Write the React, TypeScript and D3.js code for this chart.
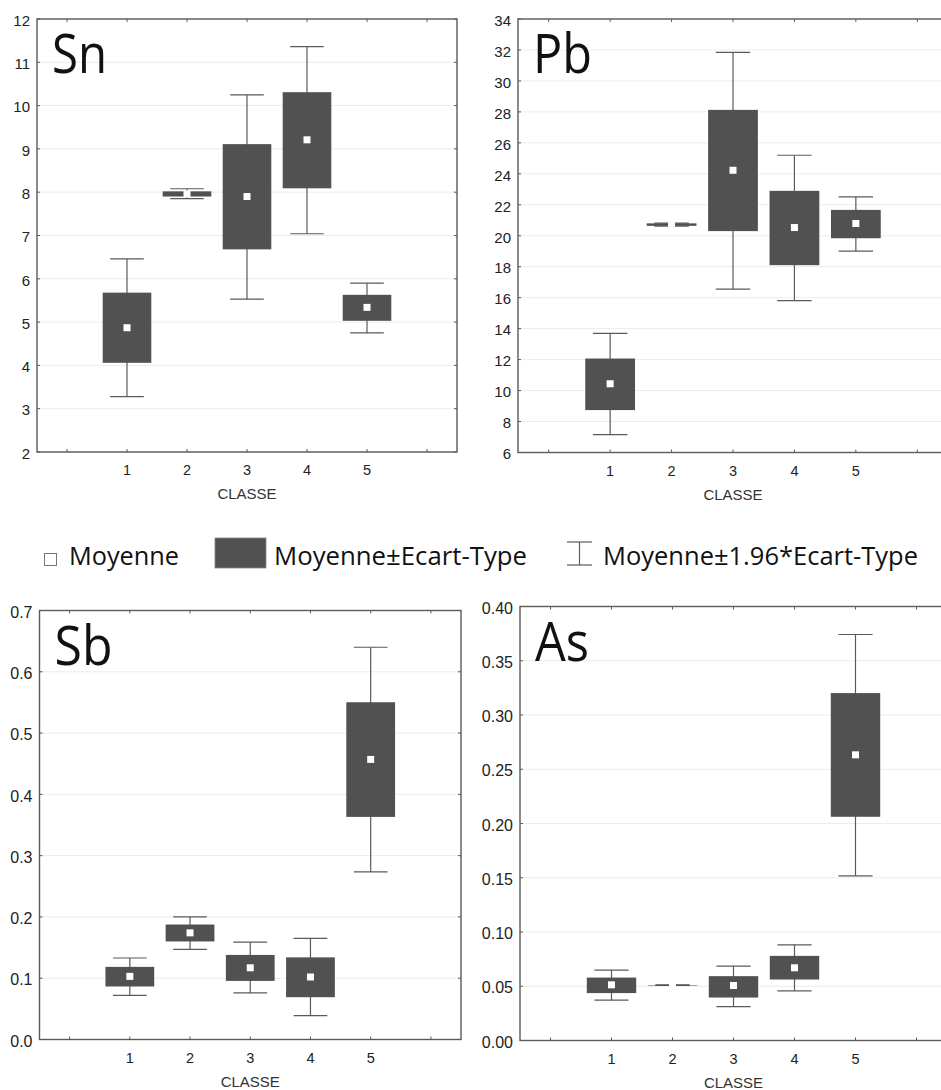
import React from "react";
import * as d3 from "d3";

// x categories (CLASSE)
const classes = [1, 2, 3, 4, 5];

// Sn
const snMean = [4.87, 7.96, 7.9, 9.21, 5.34];
const snSdLo = [4.06, 7.9, 6.68, 8.09, 5.03];
const snSdHi = [5.68, 8.02, 9.11, 10.31, 5.63];
const snCiLo = [3.28, 7.85, 5.53, 7.04, 4.75];
const snCiHi = [6.46, 8.08, 10.25, 11.36, 5.9];

// Pb
const pbMean = [10.44, 20.72, 24.23, 20.53, 20.79];
const pbSdLo = [8.74, 20.64, 20.3, 18.1, 19.84];
const pbSdHi = [12.07, 20.8, 28.13, 22.9, 21.67];
const pbCiLo = [7.16, 20.62, 16.55, 15.81, 19.01];
const pbCiHi = [13.69, 20.82, 31.85, 25.2, 22.51];

// Sb
const sbMean = [0.103, 0.174, 0.117, 0.102, 0.457];
const sbSdLo = [0.0865, 0.16, 0.0956, 0.069, 0.3632];
const sbSdHi = [0.1185, 0.1876, 0.138, 0.134, 0.5503];
const sbCiLo = [0.072, 0.147, 0.076, 0.039, 0.2735];
const sbCiHi = [0.133, 0.2, 0.159, 0.165, 0.64];

// As
const asMean = [0.0513, 0.051, 0.0507, 0.067, 0.2633];
const asSdLo = [0.0437, 0.0509, 0.0396, 0.0562, 0.2062];
const asSdHi = [0.058, 0.0511, 0.0593, 0.078, 0.3202];
const asCiLo = [0.0372, 0.0508, 0.0313, 0.0458, 0.1518];
const asCiHi = [0.0649, 0.0512, 0.0686, 0.0882, 0.3742];

const legendLabels = ["Moyenne", "Moyenne±Ecart-Type", "Moyenne±1.96*Ecart-Type"];

const BOX = "#515151";
const LINE = "#5a5a5a";
const GRID = "#ececec";
const AXIS_FONT = "'Liberation Sans', Arial, sans-serif";
const TITLE_FONT = "'Open Sans', 'Noto Sans', sans-serif";

type PanelProps = {
  name: string;
  mean: number[];
  sdLo: number[];
  sdHi: number[];
  ciLo: number[];
  ciHi: number[];
  domain: [number, number];
  tickCount: number;
  fmt: string;
  left: number;
  right: number;
  top: number;
  bottom: number;
  nameWidth: number;
  yFont: number;
};

function Panel(p: PanelProps) {
  const x = d3.scaleLinear().domain([-0.5, 6.5]).range([p.left, p.right]);
  const y = d3.scaleLinear().domain(p.domain).range([p.bottom, p.top]);
  const band = x(1) - x(0);
  const boxW = band * 0.81;
  const capW = band * 0.56;
  const yTicks = y.ticks(p.tickCount);
  const xTicks = d3.range(0, 7);
  const f = d3.format(p.fmt);
  const tk = 3;

  return (
    <g>
      {/* grid */}
      {yTicks.map((t) => (
        <line key={"g" + t} x1={p.left} x2={p.right} y1={y(t)} y2={y(t)} stroke={GRID} strokeWidth={1} />
      ))}
      {/* boxes */}
      {classes.map((c, i) => {
        const cx = x(c);
        return (
          <g key={"b" + c}>
            <line x1={cx} x2={cx} y1={y(p.ciHi[i])} y2={y(p.ciLo[i])} stroke={LINE} strokeWidth={1.2} />
            <line x1={cx - capW / 2} x2={cx + capW / 2} y1={y(p.ciHi[i])} y2={y(p.ciHi[i])} stroke={LINE} strokeWidth={1.2} />
            <line x1={cx - capW / 2} x2={cx + capW / 2} y1={y(p.ciLo[i])} y2={y(p.ciLo[i])} stroke={LINE} strokeWidth={1.2} />
            <rect
              x={cx - boxW / 2}
              y={y(p.sdHi[i])}
              width={boxW}
              height={Math.max(0.5, y(p.sdLo[i]) - y(p.sdHi[i]))}
              fill={BOX}
            />
            <rect x={cx - 3.5} y={y(p.mean[i]) - 3.5} width={7} height={7} fill="#fff" />
          </g>
        );
      })}
      {/* frame */}
      <rect x={p.left} y={p.top} width={p.right - p.left} height={p.bottom - p.top} fill="none" stroke={LINE} strokeWidth={1.4} />
      {yTicks.map((t) => (
        <g key={"yt" + t}>
          <line x1={p.left} x2={p.left + tk} y1={y(t)} y2={y(t)} stroke={LINE} />
          <line x1={p.right} x2={p.right - tk} y1={y(t)} y2={y(t)} stroke={LINE} />
          <text x={p.left - 7} y={y(t) + p.yFont * 0.45} textAnchor="end" fontSize={p.yFont} fontFamily={AXIS_FONT} fill="#222">
            {f(t)}
          </text>
        </g>
      ))}
      {xTicks.map((t) => (
        <g key={"xt" + t}>
          <line x1={x(t)} x2={x(t)} y1={p.bottom} y2={p.bottom - tk} stroke={LINE} />
          <line x1={x(t)} x2={x(t)} y1={p.top} y2={p.top + tk} stroke={LINE} />
        </g>
      ))}
      {classes.map((c) => (
        <text key={"xl" + c} x={x(c)} y={p.bottom + 23} textAnchor="middle" fontSize={14.5} fontFamily={AXIS_FONT} fill="#222">
          {c}
        </text>
      ))}
      <text x={x(3)} y={p.bottom + 47} textAnchor="middle" fontSize={15} fontFamily={AXIS_FONT} fill="#333">
        CLASSE
      </text>
      <text
        x={p.left + 15}
        y={p.top + 54}
        fontSize={54}
        fontFamily={TITLE_FONT}
        fill="#111"
        textLength={p.nameWidth}
        lengthAdjust="spacingAndGlyphs"
      >
        {p.name}
      </text>
    </g>
  );
}

export default function App() {
  return (
    <svg width={941} height={1090} style={{ position: "absolute", left: 0, top: 0, background: "#fff" }}>
      <Panel name="Sn" mean={snMean} sdLo={snSdLo} sdHi={snSdHi} ciLo={snCiLo} ciHi={snCiHi}
        domain={[2, 12]} tickCount={10} fmt="d" left={37} right={457} top={19} bottom={452} nameWidth={55} yFont={15} />
      <Panel name="Pb" mean={pbMean} sdLo={pbSdLo} sdHi={pbSdHi} ciLo={pbCiLo} ciHi={pbCiHi}
        domain={[6, 34]} tickCount={14} fmt="d" left={518} right={948} top={19} bottom={452.5} nameWidth={59} yFont={15} />
      <Panel name="Sb" mean={sbMean} sdLo={sbSdLo} sdHi={sbSdHi} ciLo={sbCiLo} ciHi={sbCiHi}
        domain={[0, 0.7]} tickCount={7} fmt=".1f" left={39.5} right={461} top={610.5} bottom={1039.5} nameWidth={58} yFont={16} />
      <Panel name="As" mean={asMean} sdLo={asSdLo} sdHi={asSdHi} ciLo={asCiLo} ciHi={asCiHi}
        domain={[0, 0.4]} tickCount={8} fmt=".2f" left={520} right={947} top={606.5} bottom={1040.5} nameWidth={54} yFont={16} />

      {/* legend */}
      <g fontFamily={TITLE_FONT} fontSize={26} fill="#111">
        <rect x={44.5} y={553.5} width={12} height={12} fill="#fff" stroke="#777" strokeWidth={1} />
        <text x={69} y={565} textLength={110} lengthAdjust="spacingAndGlyphs">{legendLabels[0]}</text>
        <rect x={215} y={538} width={51} height={30} fill={BOX} stroke="#888" strokeWidth={0.8} />
        <text x={274} y={565} textLength={253} lengthAdjust="spacingAndGlyphs">{legendLabels[1]}</text>
        <line x1={579.5} x2={579.5} y1={542} y2={565} stroke={LINE} strokeWidth={1.2} />
        <line x1={567} x2={592} y1={542} y2={542} stroke={LINE} strokeWidth={1.2} />
        <line x1={567} x2={592} y1={565} y2={565} stroke={LINE} strokeWidth={1.2} />
        <text x={603} y={565} textLength={315} lengthAdjust="spacingAndGlyphs">{legendLabels[2]}</text>
      </g>
    </svg>
  );
}
